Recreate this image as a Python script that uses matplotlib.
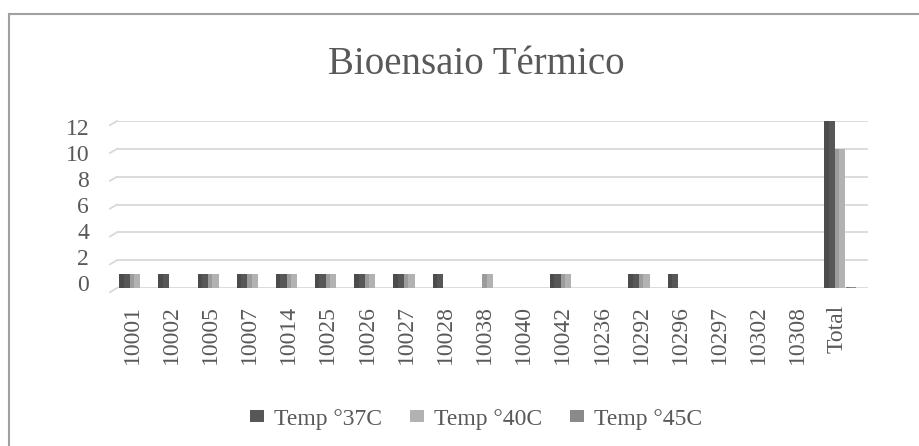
import matplotlib.pyplot as plt
from matplotlib.patches import Rectangle
import numpy as np

# dados do gráfico
amostras = ['10001', '10002', '10005', '10007', '10014', '10025', '10026', '10027',
            '10028', '10038', '10040', '10042', '10236', '10292', '10296', '10297',
            '10302', '10308', 'Total']
temp37 = [1, 1, 1, 1, 1, 1, 1, 1, 1, 0, 0, 1, 0, 1, 1, 0, 0, 0, 12]
temp40 = [1, 0, 1, 1, 1, 1, 1, 1, 0, 1, 0, 1, 0, 1, 0, 0, 0, 0, 10]
temp45 = [0, 0, 0, 0, 0, 0, 0, 0, 0, 0, 0, 0, 0, 0, 0, 0, 0, 0, 0]
series = ['Temp °37C', 'Temp °40C', 'Temp °45C']
niveis = [0, 2, 4, 6, 8, 10, 12]
cores = ['#575757', '#b2b2b2', '#8a8a8a']

W, H = 919, 446
plt.rcParams['font.family'] = ['Liberation Serif', 'DejaVu Serif']
txt = '#595959'
fs = 17

fig = plt.figure(figsize=(W / 100, H / 100), dpi=100)

# moldura do gráfico (cortada à direita e em baixo)
fig.patches.append(Rectangle((9 / W, -0.1), 1.2, (H - 14) / H + 0.1, transform=fig.transFigure,
                             fill=False, edgecolor='#a0a0a0', linewidth=1.5))

ax = fig.add_axes([117 / W, (H - 288) / H, (868 - 117) / W, (288 - 121) / H])
x = np.arange(len(amostras))
larg = 0.27
offs = [-0.19, 0.08, 0.36]

# linhas de grade com o pequeno degrau da perspectiva
for v in niveis:
    ax.plot([0, 1], [v, v], color='#d9d9d9', lw=1.3, zorder=0,
            transform=ax.get_yaxis_transform())
    ax.plot([-7 / 751, 0], [v - 0.3, v], color='#d9d9d9', lw=1.3, zorder=0, clip_on=False,
            transform=ax.get_yaxis_transform())

for vals, off, cor, nome in zip([temp37, temp40, temp45], offs, cores, series):
    for xi, v in zip(x, vals):
        if v == 0 and not (nome == 'Temp °45C' and amostras[xi] == 'Total'):
            continue
        h = v if v > 0 else 0.08
        ax.bar(xi + off, h, larg, color=cor, zorder=3, clip_on=False)
        # face lateral mais escura
        ax.bar(xi + off - larg * 0.3, h, larg * 0.4, color='black', alpha=0.12, zorder=4,
               clip_on=False, linewidth=0)
    ax.bar([0], [0], color=cor, label=nome)

ax.set_xlim(-0.383, 18.79)
ax.set_ylim(0, 12)
# rótulos do eixo y ficam na parede de trás (escala um pouco mais curta)
ax.set_yticks([(5 + 13 * v) / 13.92 for v in niveis])
ax.set_yticklabels([str(v) for v in niveis])
ax.set_xticks(x)
ax.set_xticklabels(amostras, rotation=90)
ax.tick_params(axis='y', length=0, pad=20, labelsize=fs, labelcolor=txt)
ax.tick_params(axis='x', length=0, pad=12, labelsize=fs, labelcolor=txt)
for s in ax.spines.values():
    s.set_visible(False)

fig.text(476 / W, 1 - 64 / H, 'Bioensaio Térmico', ha='center', va='center',
         fontsize=28, color=txt)

fig.legend(loc='center', bbox_to_anchor=(476 / W, 1 - 419 / H), ncol=3, frameon=False,
           fontsize=fs, labelcolor=txt, handlelength=0.6, handleheight=0.42,
           handletextpad=0.4, columnspacing=1.2)

fig.savefig('out.png', dpi=100)
